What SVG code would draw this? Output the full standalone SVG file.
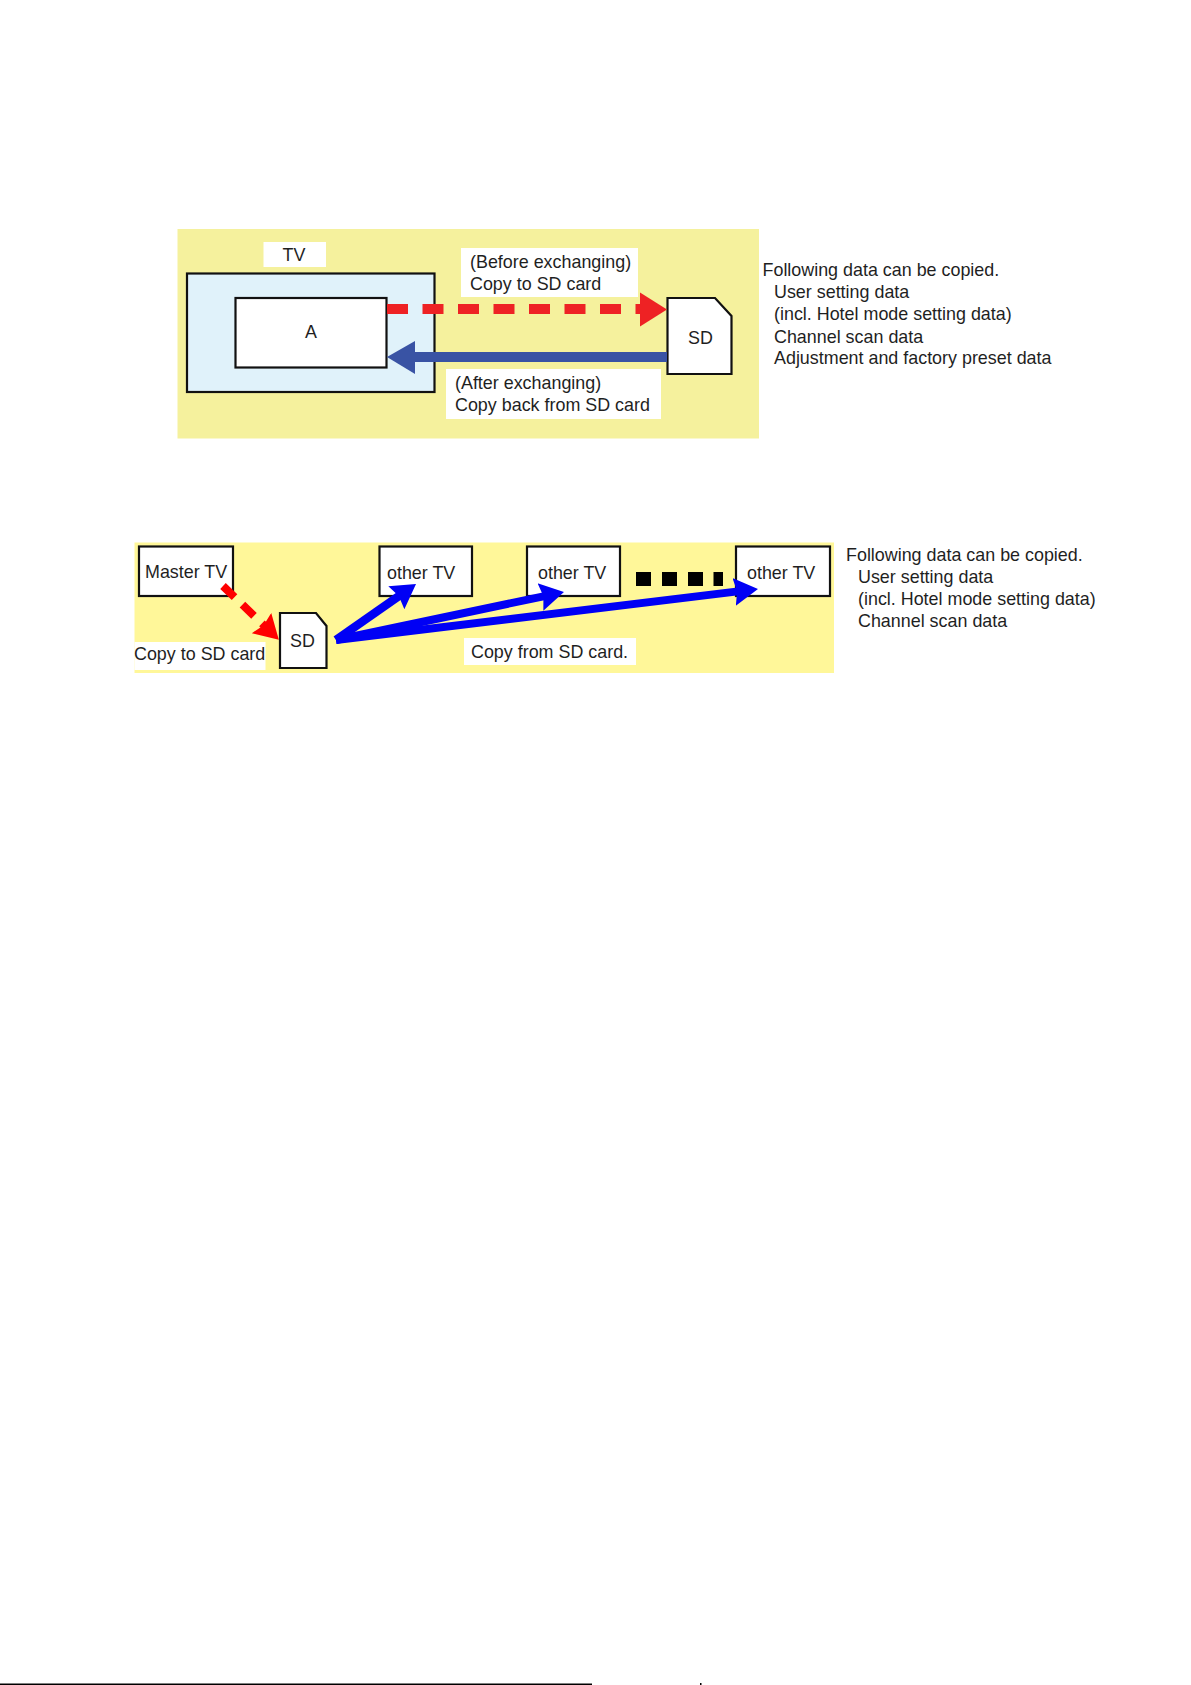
<svg xmlns="http://www.w3.org/2000/svg" width="1191" height="1685" viewBox="0 0 1191 1685">
<style>
text{font-family:"Liberation Sans",Arial,sans-serif;font-size:17.9px;fill:#1f1f1f}
.box{fill:#fff;stroke:#111;stroke-width:2.2}
.lbl{fill:#fff}
</style>
<defs>
<marker id="bh" markerUnits="userSpaceOnUse" markerWidth="28" markerHeight="30" refX="8" refY="15" orient="auto"><path d="M0,1L24,15L0,29L3,15Z" fill="#0000f5"/></marker>
<marker id="rh" markerUnits="userSpaceOnUse" markerWidth="28" markerHeight="30" refX="8" refY="15" orient="auto"><path d="M0,1L24,15L0,29L3,15Z" fill="#f00"/></marker>
</defs>
<rect width="1191" height="1685" fill="#fff"/>
<rect id="panel-top" x="177.500" y="229" width="581.500" height="209.500" fill="#f5f19d"/>
<rect id="panel-bottom" x="134.500" y="542.500" width="699.500" height="130.500" fill="#fff799"/>
<g id="tv-outer"><rect x="187" y="273.500" width="247.500" height="118.500" fill="#e0f2fa" stroke="#111" stroke-width="2.200"/></g>
<g id="tv-label"><rect class="lbl" x="263.500" y="242" width="62.500" height="25"/><text x="282.500" y="261">TV</text></g>
<g id="node-a"><rect class="box" x="235.500" y="298" width="151" height="69.500"/><text x="305" y="338">A</text></g>
<g id="sd-top"><path class="box" d="M667.500,298H715L731.500,316V374H667.500Z"/><text x="688" y="344">SD</text></g>
<g id="label-before"><rect class="lbl" x="461" y="248" width="177" height="49"/><text x="470" y="268">(Before exchanging)</text><text x="470" y="290">Copy to SD card</text></g>
<g id="label-after"><rect class="lbl" x="446" y="369" width="215" height="50"/><text x="455" y="389">(After exchanging)</text><text x="455" y="411">Copy back from SD card</text></g>
<g id="note-top">
<text x="762.500" y="276">Following data can be copied.</text>
<text x="774" y="298">User setting data</text>
<text x="774" y="320">(incl. Hotel mode setting data)</text>
<text x="774" y="343">Channel scan data</text>
<text x="774" y="364">Adjustment and factory preset data</text>
</g>
<g id="master-tv"><rect class="box" x="139" y="546.500" width="94" height="49.500"/><text x="145" y="578">Master TV</text></g>
<g id="other-tv-1"><rect class="box" x="379.500" y="546.500" width="92.500" height="49.500"/><text x="387" y="579">other TV</text></g>
<g id="other-tv-2"><rect class="box" x="527" y="546.500" width="93" height="49.500"/><text x="538" y="579">other TV</text></g>
<g id="other-tv-3"><rect class="box" x="736" y="546.500" width="94" height="49.500"/><text x="747" y="579">other TV</text></g>
<g id="sd-bottom"><path class="box" d="M280,613H316L326.500,626V668H280Z"/><text x="290" y="647">SD</text></g>
<g id="label-copy-to"><rect class="lbl" x="134.500" y="642" width="131" height="28"/><text x="134" y="660">Copy to SD card</text></g>
<g id="label-copy-from"><rect class="lbl" x="464" y="638" width="172" height="27"/><text x="471" y="658">Copy from SD card.</text></g>
<g id="note-bottom">
<text x="846" y="561">Following data can be copied.</text>
<text x="858" y="583">User setting data</text>
<text x="858" y="605">(incl. Hotel mode setting data)</text>
<text x="858" y="627">Channel scan data</text>
</g>
<g id="ellipsis" fill="#000"><rect x="636" y="572" width="15" height="14"/><rect x="662" y="572" width="15" height="14"/><rect x="688" y="572" width="15" height="14"/><rect x="713.500" y="572" width="9.500" height="14"/></g>
<g id="connectors">
<path d="M387,309H642" fill="none" stroke="#ee2224" stroke-width="10" stroke-dasharray="21 14.500"/>
<path d="M640,292.500V326.500L667,309.500Z" fill="#ee2224"/>
<path d="M667,357H412" fill="none" stroke="#3953a4" stroke-width="10"/>
<path d="M415,341V374L387,357Z" fill="#3953a4"/>
<path d="M223,586L267.300,628.600" fill="none" stroke="#f00" stroke-width="8" stroke-dasharray="16 11" marker-end="url(#rh)"/>
<path d="M336,640L402.900,593.200" fill="none" stroke="#0000f5" stroke-width="8.500" marker-end="url(#bh)"/>
<path d="M336,640L548.300,595.300" fill="none" stroke="#0000f5" stroke-width="8" marker-end="url(#bh)"/>
<path d="M336,640L742.100,590.900" fill="none" stroke="#0000f5" stroke-width="8" marker-end="url(#bh)"/>
</g>
<rect id="footer-rule" x="0" y="1683.500" width="592" height="1.500" fill="#000"/>
<rect id="footer-mark" x="700" y="1683" width="1.500" height="2" fill="#000"/>
</svg>
